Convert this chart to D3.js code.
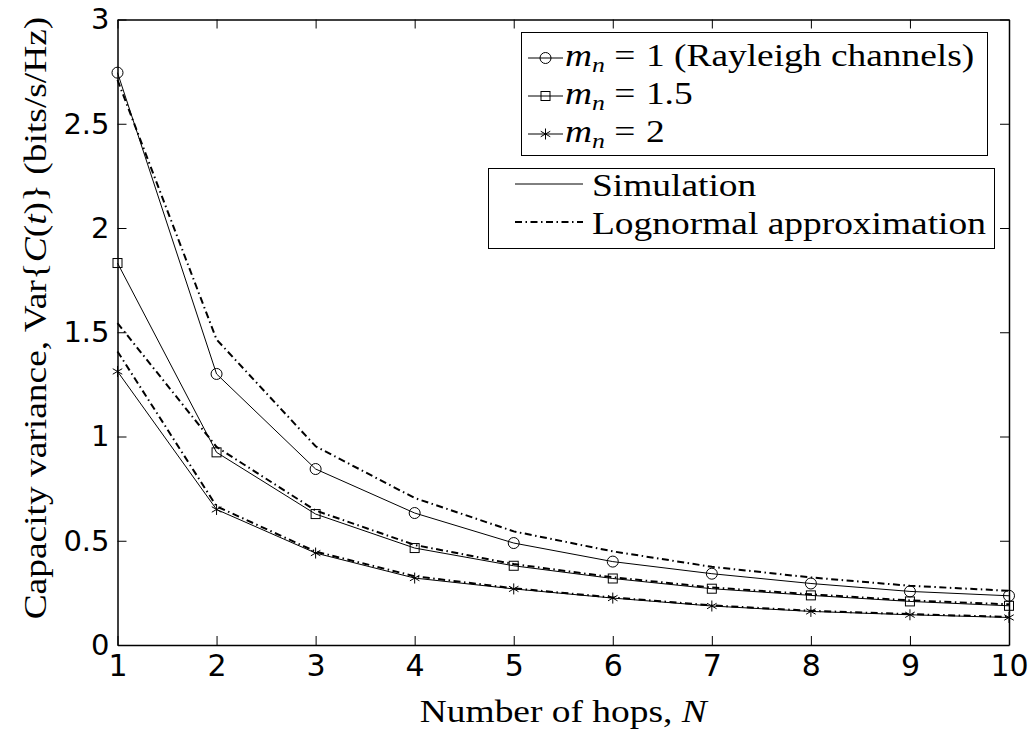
<!DOCTYPE html>
<html>
<head>
<meta charset="utf-8">
<script src="https://cdn.jsdelivr.net/npm/d3@7"></script>
<style>
  body { margin: 0; background: #fff; }
  text { fill: #000; }
</style>
</head>
<body>
<svg id="chart"></svg>
<script>
// values
const hops = [1, 2, 3, 4, 5, 6, 7, 8, 9, 10];
const simM1 = [2.745, 1.30, 0.844, 0.633, 0.489, 0.40, 0.342, 0.295, 0.257, 0.236];
const approxM1 = [2.71, 1.465, 0.953, 0.705, 0.545, 0.449, 0.375, 0.324, 0.284, 0.26];
const simM15 = [1.832, 0.924, 0.628, 0.465, 0.38, 0.319, 0.27, 0.238, 0.209, 0.188];
const approxM15 = [1.544, 0.95, 0.645, 0.48, 0.388, 0.325, 0.276, 0.243, 0.214, 0.195];
const simM2 = [1.312, 0.65, 0.441, 0.321, 0.269, 0.225, 0.187, 0.161, 0.145, 0.132];
const approxM2 = [1.408, 0.665, 0.448, 0.33, 0.272, 0.228, 0.19, 0.164, 0.148, 0.135];
const xTicks = [1, 2, 3, 4, 5, 6, 7, 8, 9, 10];
const yTicks = [0, 0.5, 1, 1.5, 2, 2.5, 3];

const width = 1032, height = 733;
const margin = {top: 19.5, right: 23, bottom: 88, left: 117.5};

const svg = d3.select("#chart")
    .attr("width", width)
    .attr("height", height);

const x = d3.scaleLinear().domain([1, 10]).range([margin.left, width - margin.right]);
const y = d3.scaleLinear().domain([0, 3]).range([height - margin.bottom, margin.top]);

const tickFont = "'DejaVu Sans', sans-serif";
const texFont = "'Liberation Serif', serif";
const texSize = 32;
const sx = 1.17;   // the LaTeX text in the figure is wider than Times

// axes, ticks pointing inward on all four sides
const fmt = d => d3.format("~g")(d);
svg.append("g")
    .attr("transform", `translate(0,${y(0)})`)
    .call(d3.axisBottom(x).tickValues(xTicks).tickFormat(fmt).tickSizeInner(-9).tickSizeOuter(0).tickPadding(10))
    .call(g => g.selectAll("text").style("font", `30px ${tickFont}`));
svg.append("g")
    .attr("transform", `translate(${x(1)},0)`)
    .call(d3.axisLeft(y).tickValues(yTicks).tickFormat(fmt).tickSizeInner(-9).tickSizeOuter(0).tickPadding(8))
    .call(g => g.selectAll("text").style("font", `29px ${tickFont}`));
svg.append("g")
    .attr("transform", `translate(0,${y(3)})`)
    .call(d3.axisTop(x).tickValues(xTicks).tickFormat("").tickSizeInner(-9).tickSizeOuter(0));
svg.append("g")
    .attr("transform", `translate(${x(10)},0)`)
    .call(d3.axisRight(y).tickValues(yTicks).tickFormat("").tickSizeInner(-9).tickSizeOuter(0));
svg.selectAll(".domain").attr("stroke", "#000").attr("stroke-width", 1.5);
svg.selectAll(".tick line").attr("stroke", "#000");

// curves
const line = d3.line().x((d, i) => x(hops[i])).y(d => y(d));
const dashDot = "7,3.5,1.5,3.5";

const series = [
    {values: approxM1, dash: dashDot, w: 2},
    {values: approxM15, dash: dashDot, w: 2},
    {values: approxM2, dash: dashDot, w: 2},
    {values: simM1, dash: null, w: 1, marker: "circle"},
    {values: simM15, dash: null, w: 1, marker: "square"},
    {values: simM2, dash: null, w: 1, marker: "star"}
];

const starPath = (r) => {
    let p = "";
    [90, 30, -30].forEach(a => {
        const dx = r * Math.cos(a * Math.PI / 180), dy = r * Math.sin(a * Math.PI / 180);
        p += `M${-dx},${-dy}L${dx},${dy}`;
    });
    return p;
};

const drawMarker = (g, type, cx, cy) => {
    if (type === "circle") {
        g.append("circle").attr("cx", cx).attr("cy", cy).attr("r", 5.5)
            .attr("fill", "none").attr("stroke", "#000");
    } else if (type === "square") {
        g.append("rect").attr("x", cx - 4.5).attr("y", cy - 4.5).attr("width", 9).attr("height", 9)
            .attr("fill", "none").attr("stroke", "#000");
    } else {
        g.append("path").attr("d", starPath(5.5)).attr("transform", `translate(${cx},${cy})`)
            .attr("fill", "none").attr("stroke", "#000");
    }
};

series.forEach(s => {
    svg.append("path")
        .datum(s.values)
        .attr("d", line)
        .attr("fill", "none")
        .attr("stroke", "#000")
        .attr("stroke-width", s.w)
        .attr("stroke-dasharray", s.dash);
    if (s.marker) {
        const g = svg.append("g");
        s.values.forEach((v, i) => drawMarker(g, s.marker, x(hops[i]), y(v)));
    }
});

const texText = (parent, tx, ty, extra = "") => parent.append("text")
    .attr("transform", `translate(${tx},${ty}) ${extra} scale(${sx},1)`)
    .style("font", `${texSize}px ${texFont}`);

// legend 1: markers
const leg1 = svg.append("g");
leg1.append("rect").attr("x", 521.5).attr("y", 32.5).attr("width", 466).attr("height", 123)
    .attr("fill", "#fff").attr("stroke", "#000");
const leg1Rows = [
    {marker: "circle", val: "1 (Rayleigh channels)", base: 66},
    {marker: "square", val: "1.5", base: 104},
    {marker: "star", val: "2", base: 142}
];
leg1Rows.forEach(r => {
    const cy = r.base - 8;
    leg1.append("line").attr("x1", 528).attr("x2", 563).attr("y1", cy).attr("y2", cy).attr("stroke", "#000");
    drawMarker(leg1, r.marker, 545.5, cy);
    const t = texText(leg1, 565, r.base);
    t.append("tspan").style("font-style", "italic").text("m");
    t.append("tspan").style("font-style", "italic").style("font-size", "22px").attr("dy", 6).text("n");
    t.append("tspan").attr("dy", -6).attr("dx", 8).text("=");
    t.append("tspan").attr("dx", 9).text(r.val);
});

// legend 2: line styles
const leg2 = svg.append("g");
leg2.append("rect").attr("x", 488.5).attr("y", 168.5).attr("width", 506).attr("height", 80)
    .attr("fill", "#fff").attr("stroke", "#000");
const leg2Rows = [
    {label: "Simulation", dash: null, w: 1, base: 196, ly: 184},
    {label: "Lognormal approximation", dash: dashDot, w: 2, base: 234, ly: 222}
];
leg2Rows.forEach(r => {
    leg2.append("line").attr("x1", 515).attr("x2", 583).attr("y1", r.ly).attr("y2", r.ly)
        .attr("stroke", "#000").attr("stroke-width", r.w).attr("stroke-dasharray", r.dash);
    texText(leg2, 592, r.base).text(r.label);
});

// axis titles
const xt = texText(svg, (x(1) + x(10)) / 2, 722).attr("text-anchor", "middle");
xt.append("tspan").text("Number of hops, ");
xt.append("tspan").style("font-style", "italic").text("N");

const yt = texText(svg, 46, 318, "rotate(-90)").attr("text-anchor", "middle");
yt.append("tspan").text("Capacity variance, Var{");
yt.append("tspan").style("font-style", "italic").text("C");
yt.append("tspan").text("(");
yt.append("tspan").style("font-style", "italic").text("t");
yt.append("tspan").text(")} (bits/s/Hz)");
</script>
</body>
</html>
